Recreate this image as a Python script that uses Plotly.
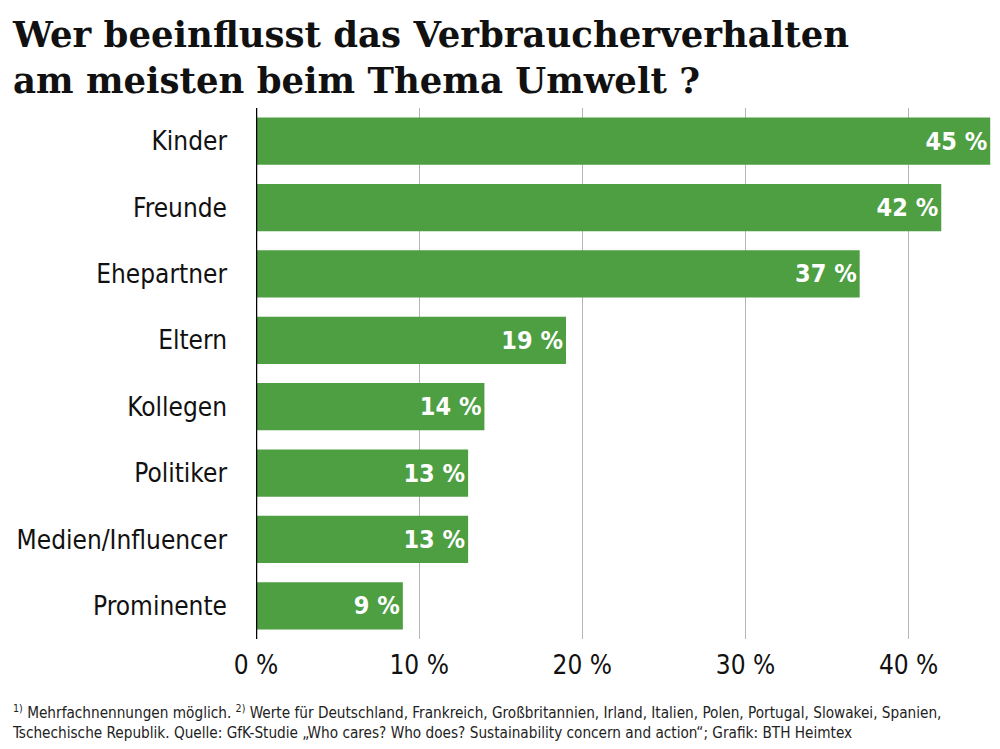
import plotly.graph_objects as go

categories = ["Kinder", "Freunde", "Ehepartner", "Eltern", "Kollegen", "Politiker", "Medien/Influencer", "Prominente"]
values = [45, 42, 37, 19, 14, 13, 13, 9]
tick_vals = [0, 10, 20, 30, 40]
tick_text = ["0 %", "10 %", "20 %", "30 %", "40 %"]

GREEN = "#4e9e42"
NARROW = "DejaVu Sans Condensed, Liberation Sans Narrow, sans-serif"

fig = go.Figure(go.Bar(
    x=values, y=categories, orientation="h",
    marker=dict(color=GREEN, line=dict(width=0)),
    width=0.71,
    text=[f"{v} %" for v in values],
    textposition="inside", insidetextanchor="end",
    textfont=dict(family=NARROW, size=25, color="white"),
    texttemplate="<b>%{text}</b>",
))

fig.update_layout(
    width=1000, height=749,
    paper_bgcolor="white", plot_bgcolor="white",
    margin=dict(l=256, r=0, t=108, b=110, autoexpand=False),
    showlegend=False,
)
fig.update_xaxes(
    range=[0, 45.6], tickvals=tick_vals, ticktext=tick_text,
    showgrid=True, gridcolor="#b5b5b5", gridwidth=1,
    zeroline=False, showline=False, ticks="", automargin=False,
    tickfont=dict(family=NARROW, size=26, color="#111"),
    ticklabelstandoff=8,
)
fig.update_yaxes(
    categoryorder="array", categoryarray=categories[::-1],
    showgrid=False, zeroline=False, showline=False, ticks="", automargin=False,
    tickfont=dict(family=NARROW, size=26, color="#111"),
    ticklabelstandoff=28,
)

fig.add_shape(type="line", xref="x", yref="paper", x0=0, x1=0, y0=0, y1=1,
              line=dict(color="black", width=2.5))

fig.add_annotation(
    xref="paper", yref="paper", x=-(256 - 10) / 744, y=1 + (108 - 12) / 531,
    xanchor="left", yanchor="top", align="left", showarrow=False,
    text="<b>Wer beeinflusst das Verbraucherverhalten<br>am meisten beim Thema Umwelt ?</b>",
    font=dict(family="DejaVu Serif", size=35.5, color="#111"),
)
fig.add_annotation(
    xref="paper", yref="paper", x=-(256 - 10) / 744, y=-(700 - 639) / 531,
    xanchor="left", yanchor="top", align="left", showarrow=False,
    text=("<sup>1)</sup> Mehrfachnennungen möglich. <sup>2)</sup> Werte für Deutschland, Frankreich, Großbritannien, Irland, Italien, Polen, Portugal, Slowakei, Spanien,<br>"
          "Tschechische Republik. Quelle: GfK-Studie „Who cares? Who does? Sustainability concern and action“; Grafik: BTH Heimtex"),
    font=dict(family=NARROW, size=15.2, color="#222"),
)

fig.write_html("out.html", config={"displayModeBar": False})

with open("out.html", "r", encoding="utf-8") as f:
    html = f.read()
html = html.replace("<head>", "<head><style>html,body{margin:0;padding:0;}</style>", 1)
with open("out.html", "w", encoding="utf-8") as f:
    f.write(html)
